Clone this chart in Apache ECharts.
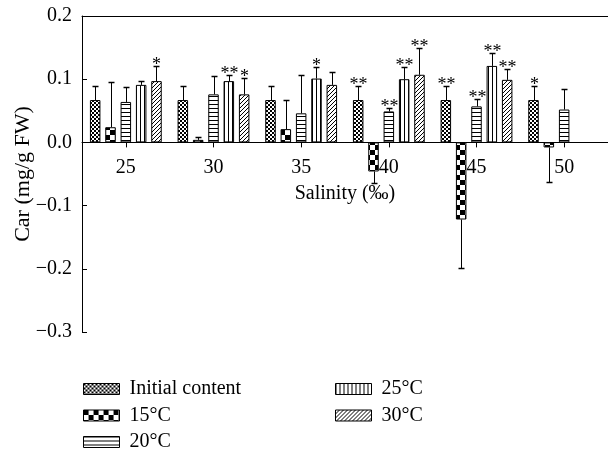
<!DOCTYPE html>
<html>
<head>
<meta charset="utf-8">
<script src="https://cdn.jsdelivr.net/npm/echarts@6/dist/echarts.min.js"></script>
<style>
html, body { margin: 0; padding: 0; background: #fff; }
#chart-car { width: 608px; height: 452px; }
</style>
</head>
<body>
<div id="chart-car"></div>
<script>
// salinity groups on the x axis
var categories = ['25', '30', '35', '40', '45', '50']
var seriesNames = ['Initial content', '15°C', '20°C', '25°C', '30°C']

// mean values (mg/g FW), error bar length, significance marks
var initialMean = [0.067, 0.067, 0.067, 0.067, 0.067, 0.067]
var initialErr = [0.023, 0.023, 0.023, 0.023, 0.023, 0.023]
var initialStars = ['', '', '', '**', '**', '*']

var t15Mean = [0.024, 0.004, 0.021, -0.046, -0.122, -0.008]
var t15Err = [0.072, 0.004, 0.046, 0.019, 0.076, 0.055]
var t15Stars = ['', '', '', '', '', '']

var t20Mean = [0.064, 0.076, 0.046, 0.049, 0.057, 0.052]
var t20Err = [0.024, 0.029, 0.060, 0.005, 0.011, 0.033]
var t20Stars = ['', '', '', '**', '**', '']

var t25Mean = [0.091, 0.097, 0.101, 0.100, 0.121, null]
var t25Err = [0.006, 0.009, 0.018, 0.019, 0.021, null]
var t25Stars = ['', '**', '*', '**', '**', '']

var t30Mean = [0.097, 0.076, 0.091, 0.107, 0.099, null]
var t30Err = [0.024, 0.026, 0.021, 0.042, 0.017, null]
var t30Stars = ['*', '*', '', '**', '**', '']

var yMin = -0.3
var yMax = 0.2
var yStep = 0.1

var means = [initialMean, t15Mean, t20Mean, t25Mean, t30Mean]
var errs = [initialErr, t15Err, t20Err, t25Err, t30Err]
var stars = [initialStars, t15Stars, t20Stars, t25Stars, t30Stars]

var FONT = '"Liberation Serif", "DejaVu Serif", serif'
var BAR_W = 10.5
var BAR_GAP = 0.46
var BAR_STEP = BAR_W * (1 + BAR_GAP)
var GRID_TOP = 16
var GRID_BOTTOM = 120
var GRID_H = 452 - GRID_TOP - GRID_BOTTOM
// the x axis sits on y = 0, so lift it from the bottom edge of the grid
var X_OFFSET = -GRID_H * (0 - yMin) / (yMax - yMin)

// small canvas tiles used as fill patterns
function makePattern (w, h, draw) {
  var cv = document.createElement('canvas')
  cv.width = w
  cv.height = h
  var ctx = cv.getContext('2d')
  ctx.fillStyle = '#fff'
  ctx.fillRect(0, 0, w, h)
  ctx.fillStyle = '#000'
  ctx.strokeStyle = '#000'
  draw(ctx)
  return { image: cv, repeat: 'repeat' }
}

var patterns = [
  // fine dotted
  makePattern(4, 4, function (ctx) {
    ctx.fillRect(0, 0, 2, 2)
    ctx.fillRect(2, 2, 2, 2)
  }),
  // coarse checker
  makePattern(10, 10, function (ctx) {
    ctx.fillRect(0, 0, 5, 5)
    ctx.fillRect(5, 5, 5, 5)
  }),
  // horizontal lines
  makePattern(4, 4, function (ctx) {
    ctx.fillRect(0, 0, 4, 1)
  }),
  // vertical lines
  makePattern(4, 4, function (ctx) {
    ctx.fillRect(0, 0, 1, 4)
  }),
  // diagonal hatch
  makePattern(4, 4, function (ctx) {
    ctx.lineWidth = 1
    ctx.beginPath()
    ctx.moveTo(0, 4); ctx.lineTo(4, 0)
    ctx.moveTo(-1, 1); ctx.lineTo(1, -1)
    ctx.moveTo(3, 5); ctx.lineTo(5, 3)
    ctx.stroke()
  })
]

var series = []
for (var s = 0; s < seriesNames.length; s++) {
  series.push({
    name: seriesNames[s],
    type: 'bar',
    barWidth: BAR_W,
    barGap: (BAR_GAP * 100) + '%',
    itemStyle: {
      color: patterns[s],
      borderColor: '#000',
      borderWidth: 1
    },
    emphasis: { disabled: true },
    data: means[s]
  })
}

// error bars + stars, one item per bar
var errData = []
for (var si = 0; si < means.length; si++) {
  for (var ci = 0; ci < categories.length; ci++) {
    var m = means[si][ci]
    if (m === null) continue
    var end = m < 0 ? m - errs[si][ci] : m + errs[si][ci]
    errData.push([ci, end, si, m])
  }
}

series.push({
  name: 'err',
  type: 'custom',
  z: 5,
  silent: true,
  encode: { x: 0, y: 1 },
  data: errData,
  renderItem: function (params, api) {
    var c = api.value(0)
    var end = api.value(1)
    var s = api.value(2)
    var m = api.value(3)
    var p0 = api.coord([c, m])
    var p1 = api.coord([c, end])
    var x = Math.round(p0[0] + (s - 2) * BAR_STEP) + 0.5
    var y1 = Math.round(p1[1]) + 0.5
    var lineStyle = { stroke: '#000', lineWidth: 1 }
    var children = [
      { type: 'line', shape: { x1: x, y1: p0[1], x2: x, y2: y1 }, style: lineStyle },
      { type: 'line', shape: { x1: x - 3, y1: y1, x2: x + 3, y2: y1 }, style: { stroke: '#000', lineWidth: 1.5 } }
    ]
    var mark = stars[s][c]
    if (mark) {
      children.push({
        type: 'text',
        style: {
          text: mark,
          x: x,
          y: y1 + 8,
          align: 'center',
          verticalAlign: 'bottom',
          fill: '#000',
          font: '18px ' + FONT
        }
      })
    }
    return { type: 'group', children: children }
  }
})

var legendBase = {
  orient: 'vertical',
  top: 379,
  padding: 0,
  height: 80,
  icon: 'rect',
  itemWidth: 36,
  itemHeight: 11,
  itemGap: 6.5,
  selectedMode: false,
  itemStyle: { borderColor: '#000', borderWidth: 1 },
  textStyle: { fontFamily: FONT, fontSize: 20, color: '#000', lineHeight: 20, padding: [0, 0, 0, 5] }
}

var option = {
  animation: false,
  backgroundColor: '#fff',
  textStyle: { fontFamily: FONT, color: '#000' },
  grid: { left: 82, right: 0, top: GRID_TOP, bottom: GRID_BOTTOM, outerBoundsMode: 'none', containLabel: false },
  legend: [
    Object.assign({}, legendBase, { data: seriesNames.slice(0, 3), left: 83 }),
    Object.assign({}, legendBase, { data: seriesNames.slice(3), left: 335 })
  ],
  xAxis: [
    {
      type: 'category',
      data: categories,
      position: 'bottom',
      offset: X_OFFSET,
      name: 'Salinity (‰)',
      nameLocation: 'middle',
      nameGap: 41,
      nameMoveOverlap: false,
      nameTextStyle: { fontFamily: FONT, fontSize: 20, color: '#000' },
      axisLine: { onZero: false, lineStyle: { color: '#000', width: 1 } },
      axisTick: { show: true, alignWithLabel: true, length: 5, lineStyle: { color: '#000' } },
      axisLabel: { fontFamily: FONT, fontSize: 20, color: '#000', margin: 15 },
      splitLine: { show: false }
    },
    {
      // top border of the frame
      type: 'category',
      data: categories,
      position: 'top',
      axisLine: { onZero: false, lineStyle: { color: '#000', width: 1 } },
      axisTick: { show: false },
      axisLabel: { show: false },
      splitLine: { show: false }
    }
  ],
  yAxis: {
    type: 'value',
    min: yMin,
    max: yMax,
    interval: yStep,
    name: 'Car (mg/g FW)',
    nameLocation: 'middle',
    nameGap: 48,
    nameMoveOverlap: false,
    nameTextStyle: { fontFamily: FONT, fontSize: 22, color: '#000' },
    axisLine: { show: true, onZero: false, lineStyle: { color: '#000', width: 1 } },
    axisTick: { show: true, inside: true, length: 5, lineStyle: { color: '#000' } },
    axisLabel: {
      fontFamily: FONT,
      fontSize: 20,
      color: '#000',
      margin: 10,
      formatter: function (v) {
        var r = Math.round(v * 10) / 10
        return (r < 0 ? '\u2212' : '') + Math.abs(r).toFixed(1)
      }
    },
    splitLine: { show: false }
  },
  series: series
}

var chart = echarts.init(document.getElementById('chart-car'))
chart.setOption(option)
</script>
</body>
</html>
